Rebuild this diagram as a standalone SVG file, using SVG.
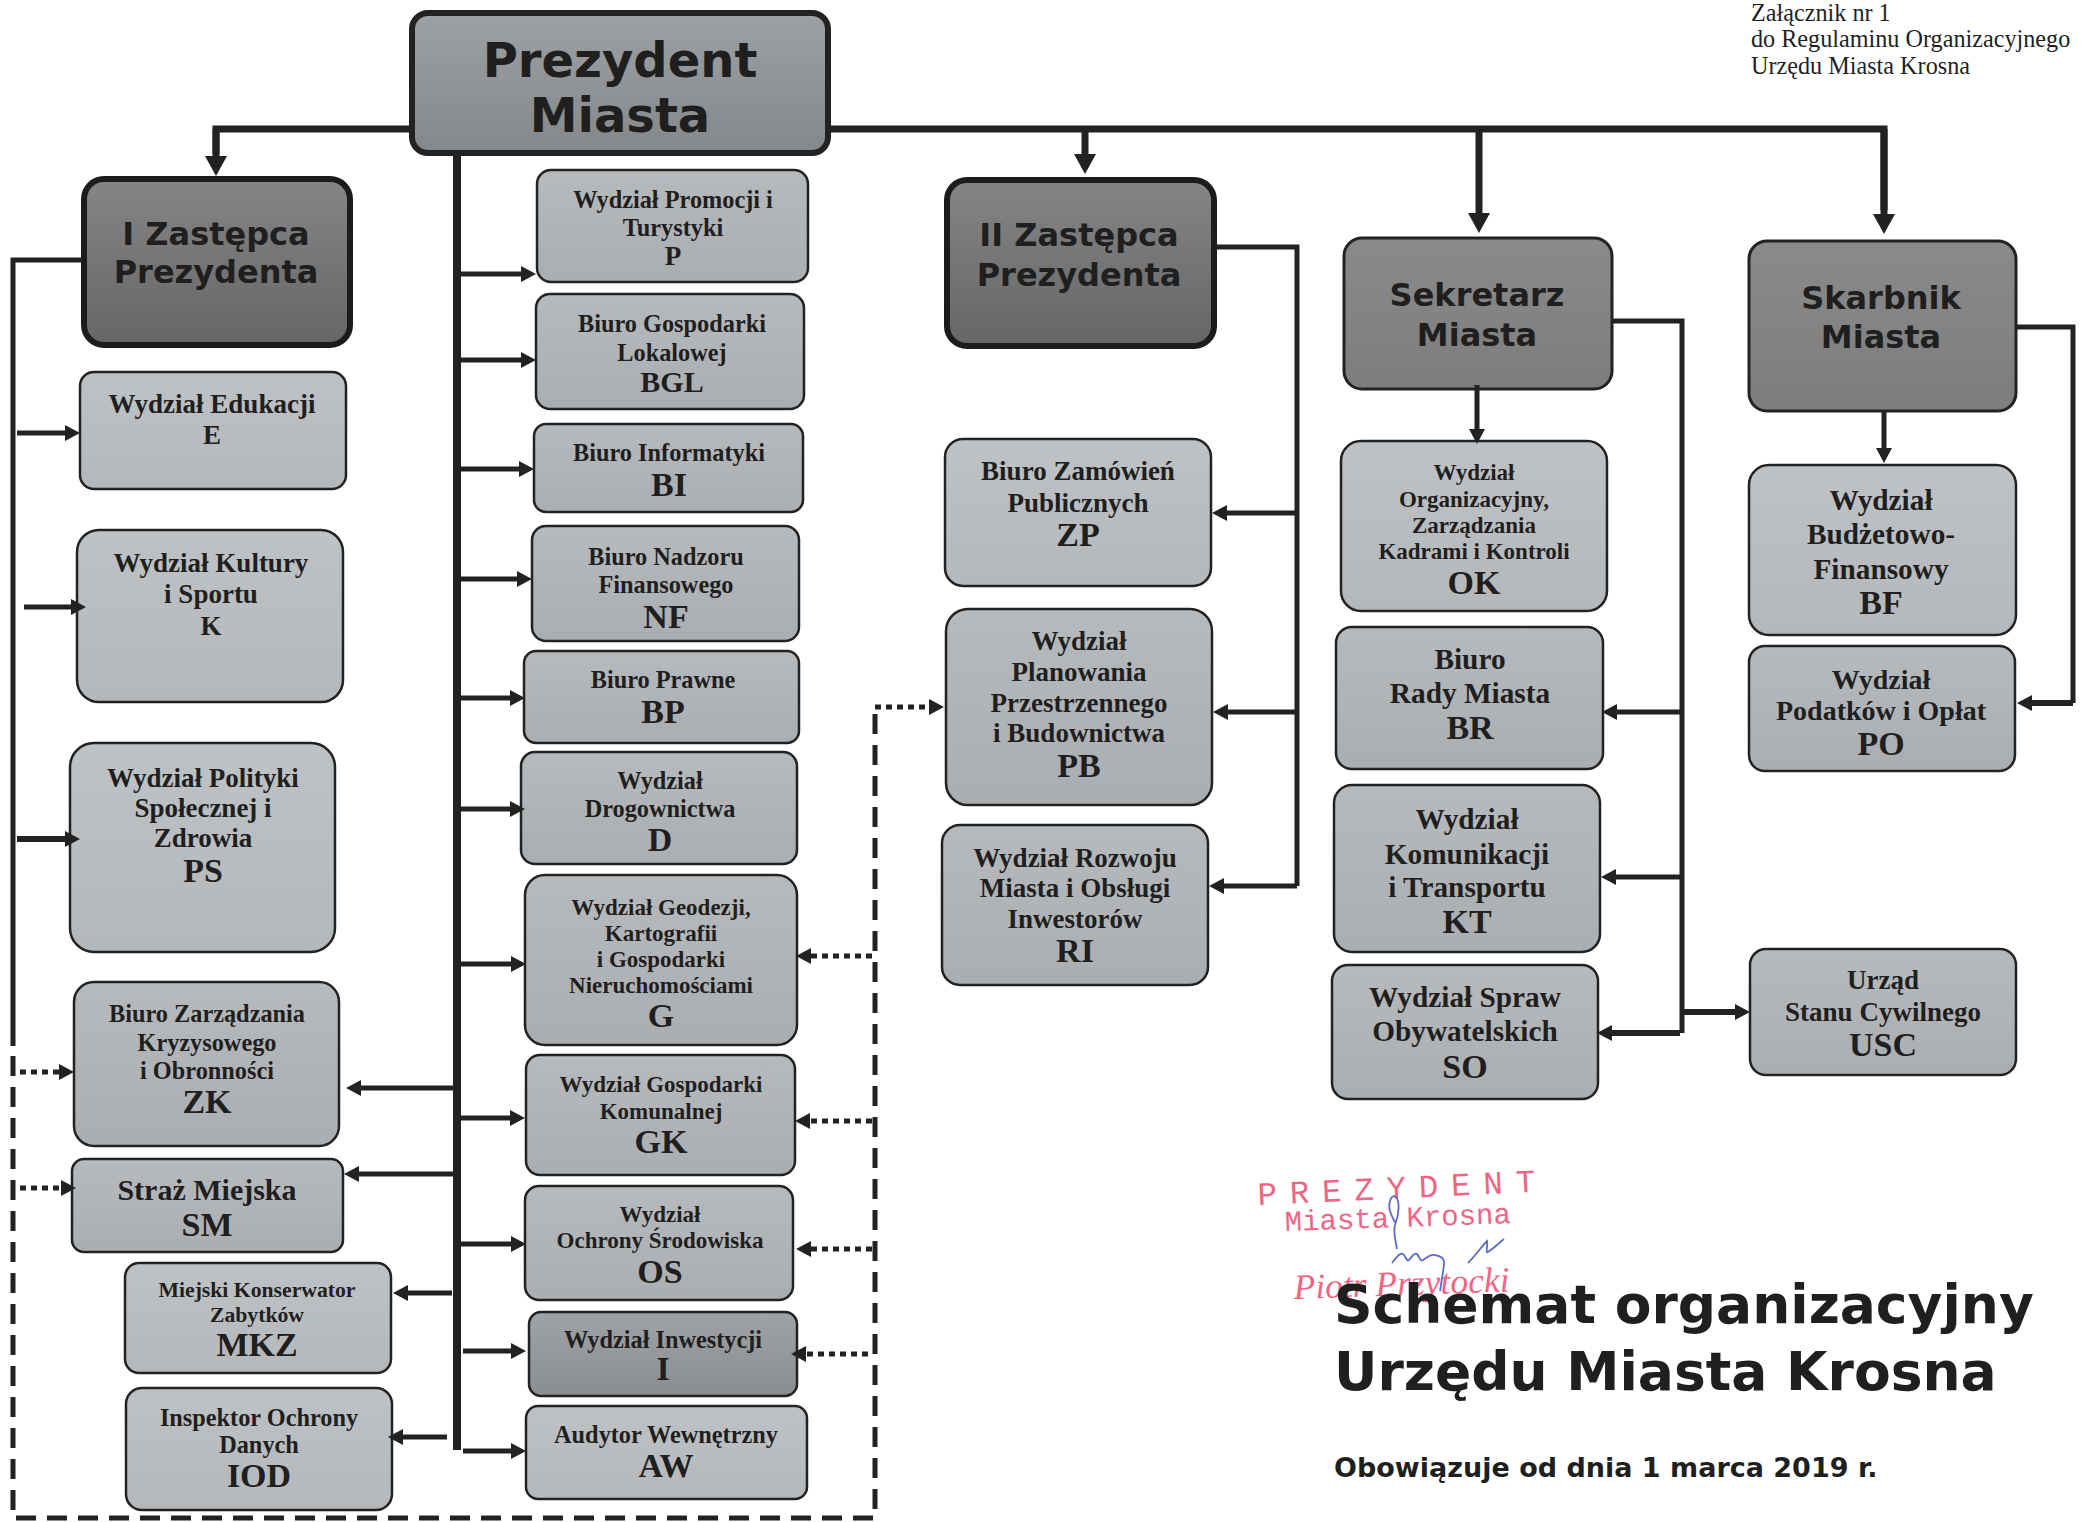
<svg xmlns="http://www.w3.org/2000/svg" width="2084" height="1522" viewBox="0 0 2084 1522">
<style>
text{font-family:"Liberation Serif",serif;font-weight:700;fill:#1f1f1f;text-anchor:middle}
.t{font-size:27px}.s{font-size:24.3px}.r{font-size:23px}.q{font-size:29.3px}.c{font-size:34px}.b{font-size:30px}
.h{font-family:"DejaVu Sans",sans-serif}
.n{fill:url(#g1);stroke:#222;stroke-width:2.5}
.l{fill:url(#g2);stroke:#222;stroke-width:2.5}
.d{fill:url(#g3);stroke:#1c1c1c;stroke-width:6}
.m{fill:url(#g4);stroke:#222;stroke-width:3}
.p{fill:url(#g6);stroke:#222;stroke-width:6}
.w{fill:none;stroke:#222;stroke-width:5}
.th{stroke-width:7}
.dot{stroke-dasharray:6 5;stroke-width:5}
.dash{stroke-dasharray:20 11;stroke-width:5}
.a{marker-end:url(#ah)}.A{marker-end:url(#AH)}
.st{fill:#ee5577;font-weight:400;text-anchor:start}
.sm{font-family:"Liberation Mono",monospace}
.nt{font-weight:400;font-size:24.2px;text-anchor:start}
.big{text-anchor:start;font-size:53.5px}
</style>
<defs>
<linearGradient id="g1" x1="0" y1="0" x2="0" y2="1"><stop offset="0" stop-color="#b7babc"/><stop offset="1" stop-color="#abaeb0"/></linearGradient>
<linearGradient id="g2" x1="0" y1="0" x2="0" y2="1"><stop offset="0" stop-color="#bfc2c4"/><stop offset="1" stop-color="#b5b8ba"/></linearGradient>
<linearGradient id="g3" x1="0" y1="0" x2="0" y2="1"><stop offset="0" stop-color="#858585"/><stop offset="1" stop-color="#666666"/></linearGradient>
<linearGradient id="g4" x1="0" y1="0" x2="0" y2="1"><stop offset="0" stop-color="#8a8a8a"/><stop offset="1" stop-color="#7d7d7d"/></linearGradient>
<linearGradient id="g5" x1="0" y1="0" x2="0" y2="1"><stop offset="0" stop-color="#a0a3a5"/><stop offset="1" stop-color="#8b8e90"/></linearGradient>
<linearGradient id="g6" x1="0" y1="0" x2="0" y2="1"><stop offset="0" stop-color="#9da1a3"/><stop offset="1" stop-color="#85888a"/></linearGradient>
<marker id="ah" markerUnits="userSpaceOnUse" markerWidth="20" markerHeight="20" refX="3" refY="10" orient="auto"><polygon points="0,2 15,10 0,18" fill="#222"/></marker>
<marker id="AH" markerUnits="userSpaceOnUse" markerWidth="26" markerHeight="26" refX="3" refY="13" orient="auto"><polygon points="0,2 20,13 0,24" fill="#222"/></marker>
</defs>

<g id="stamp" opacity="0.9">
<text class="st sm" style="font-size:32.5px;letter-spacing:12.8px" x="1258" y="1205" transform="rotate(-2.7 1258 1205)">PREZYDENT</text>
<text class="st sm" style="font-size:29px" x="1285" y="1231" transform="rotate(-2 1285 1231)">Miasta Krosna</text>
<text class="st" style="font-style:italic;font-size:35.5px" x="1294" y="1299" transform="rotate(-2 1294 1299)">Piotr Przytocki</text>
<path d="M1397 1249C1395 1238 1393 1232 1395 1225C1399 1214 1400 1202 1396 1197C1391 1193 1388 1204 1390 1211C1392 1217 1394 1221 1396 1223M1392 1263C1396 1258 1400 1252 1403 1254C1406 1256 1406 1262 1409 1260C1412 1257 1414 1252 1417 1254C1420 1257 1420 1262 1423 1260C1427 1257 1431 1254 1435 1255C1441 1256 1445 1258 1444 1264C1443 1274 1441 1284 1440 1291M1468 1263C1476 1255 1482 1246 1487 1241C1488 1246 1485 1254 1488 1252C1494 1248 1499 1243 1504 1239" fill="none" stroke="#4a5cc0" stroke-width="1.8"/>
</g>

<g id="prezydent"><rect class="p" x="412" y="13" width="416" height="140" rx="16"/><text class="h" font-size="48" x="620" y="77">Prezydent</text><text class="h" font-size="48" x="620" y="132">Miasta</text></g>
<g id="zastepca1"><rect class="d" x="84" y="179" width="266" height="166" rx="20"/><text class="h" font-size="32" x="216" y="245">I Zastępca</text><text class="h" font-size="32" x="216" y="283">Prezydenta</text></g>
<g id="zastepca2"><rect class="d" x="947" y="180" width="267" height="166" rx="20"/><text class="h" font-size="32" x="1079" y="246">II Zastępca</text><text class="h" font-size="32" x="1079" y="286">Prezydenta</text></g>
<g id="sekretarz"><rect class="m" x="1344" y="238" width="268" height="151" rx="18"/><text class="h" font-size="32" x="1477" y="306">Sekretarz</text><text class="h" font-size="32" x="1477" y="346">Miasta</text></g>
<g id="skarbnik"><rect class="m" x="1749" y="241" width="267" height="170" rx="18"/><text class="h" font-size="32" x="1881" y="309">Skarbnik</text><text class="h" font-size="32" x="1881" y="348">Miasta</text></g>

<g id="P"><rect class="n" x="537" y="170" width="271" height="112" rx="14"/><text class="s" x="673" y="208">Wydział Promocji i</text><text class="s" x="673" y="236">Turystyki</text><text class="t" x="673" y="265">P</text></g>
<g id="BGL"><rect class="n" x="536" y="294" width="268" height="115" rx="14"/><text class="s" x="672" y="332">Biuro Gospodarki</text><text class="s" x="672" y="361">Lokalowej</text><text class="b" x="672" y="392">BGL</text></g>
<g id="BI"><rect class="n" x="534" y="424" width="269" height="88" rx="12"/><text class="s" x="669" y="461">Biuro Informatyki</text><text class="c" x="669" y="496">BI</text></g>
<g id="NF"><rect class="n" x="532" y="526" width="267" height="115" rx="14"/><text class="s" x="666" y="565">Biuro Nadzoru</text><text class="s" x="666" y="593">Finansowego</text><text class="c" x="666" y="628">NF</text></g>
<g id="BP"><rect class="n" x="524" y="651" width="275" height="92" rx="12"/><text class="s" x="663" y="688">Biuro Prawne</text><text class="c" x="663" y="723">BP</text></g>
<g id="D"><rect class="n" x="521" y="752" width="276" height="112" rx="14"/><text class="s" x="660" y="789">Wydział</text><text class="s" x="660" y="817">Drogownictwa</text><text class="c" x="660" y="851">D</text></g>
<g id="G"><rect class="n" x="525" y="875" width="272" height="170" rx="20"/><text class="r" x="661" y="915">Wydział Geodezji,</text><text class="r" x="661" y="941">Kartografii</text><text class="r" x="661" y="967">i Gospodarki</text><text class="r" x="661" y="993">Nieruchomościami</text><text class="c" x="661" y="1027">G</text></g>
<g id="GK"><rect class="n" x="526" y="1055" width="269" height="120" rx="14"/><text class="r" x="661" y="1092">Wydział Gospodarki</text><text class="r" x="661" y="1119">Komunalnej</text><text class="c" x="661" y="1153">GK</text></g>
<g id="OS"><rect class="n" x="525" y="1186" width="268" height="114" rx="14"/><text class="r" x="660" y="1222">Wydział</text><text class="r" x="660" y="1248">Ochrony Środowiska</text><text class="c" x="660" y="1283">OS</text></g>
<g id="I"><rect x="529" y="1312" width="268" height="84" rx="12" style="fill:url(#g5);stroke:#222;stroke-width:2.5"/><text class="s" x="663" y="1348">Wydział Inwestycji</text><text class="c" x="663" y="1380">I</text></g>
<g id="AW"><rect class="l" x="526" y="1406" width="281" height="93" rx="12"/><text class="s" x="666" y="1443">Audytor Wewnętrzny</text><text class="c" x="666" y="1477">AW</text></g>
<g id="E"><rect class="l" x="80" y="372" width="266" height="117" rx="14"/><text class="t" x="212" y="413">Wydział Edukacji</text><text class="t" x="212" y="444">E</text></g>
<g id="K"><rect class="l" x="77" y="530" width="266" height="172" rx="22"/><text class="t" x="211" y="572">Wydział Kultury</text><text class="t" x="211" y="603">i Sportu</text><text class="t" x="211" y="635">K</text></g>
<g id="PS"><rect class="l" x="70" y="743" width="265" height="209" rx="24"/><text class="t" x="203" y="787">Wydział Polityki</text><text class="t" x="203" y="817">Społecznej i</text><text class="t" x="203" y="847">Zdrowia</text><text class="c" x="203" y="882">PS</text></g>
<g id="ZK"><rect class="n" x="74" y="982" width="265" height="164" rx="20"/><text class="s" x="207" y="1022">Biuro Zarządzania</text><text class="s" x="207" y="1051">Kryzysowego</text><text class="s" x="207" y="1079">i Obronności</text><text class="c" x="207" y="1113">ZK</text></g>
<g id="SM"><rect class="n" x="72" y="1159" width="271" height="93" rx="12"/><text style="font-size:30px" x="207" y="1200">Straż Miejska</text><text class="c" x="207" y="1236">SM</text></g>
<g id="MKZ"><rect class="l" x="125" y="1263" width="266" height="110" rx="14"/><text style="font-size:21.7px" x="257" y="1297">Miejski Konserwator</text><text style="font-size:21.7px" x="257" y="1322">Zabytków</text><text class="c" x="257" y="1356">MKZ</text></g>
<g id="IOD"><rect class="l" x="126" y="1388" width="266" height="122" rx="16"/><text class="s" x="259" y="1426">Inspektor Ochrony</text><text class="s" x="259" y="1453">Danych</text><text class="c" x="259" y="1487">IOD</text></g>
<g id="ZP"><rect class="l" x="945" y="439" width="266" height="147" rx="18"/><text class="t" x="1078" y="480">Biuro Zamówień</text><text class="t" x="1078" y="512">Publicznych</text><text class="c" x="1078" y="546">ZP</text></g>
<g id="PB"><rect class="n" x="946" y="609" width="266" height="196" rx="22"/><text class="t" x="1079" y="650">Wydział</text><text class="t" x="1079" y="681">Planowania</text><text class="t" x="1079" y="712">Przestrzennego</text><text class="t" x="1079" y="742">i Budownictwa</text><text class="c" x="1079" y="777">PB</text></g>
<g id="RI"><rect class="n" x="942" y="825" width="266" height="160" rx="18"/><text class="t" x="1075" y="867">Wydział Rozwoju</text><text class="t" x="1075" y="897">Miasta i Obsługi</text><text class="t" x="1075" y="928">Inwestorów</text><text class="c" x="1075" y="962">RI</text></g>
<g id="OK"><rect class="l" x="1341" y="441" width="266" height="170" rx="20"/><text class="r" x="1474" y="480">Wydział</text><text class="r" x="1474" y="507">Organizacyjny,</text><text class="r" x="1474" y="533">Zarządzania</text><text class="r" x="1474" y="559">Kadrami i Kontroli</text><text class="c" x="1474" y="594">OK</text></g>
<g id="BR"><rect class="n" x="1336" y="627" width="267" height="142" rx="16"/><text class="q" x="1470" y="669">Biuro</text><text class="q" x="1470" y="703">Rady Miasta</text><text class="c" x="1470" y="739">BR</text></g>
<g id="KT"><rect class="n" x="1334" y="785" width="266" height="167" rx="18"/><text class="q" x="1467" y="829">Wydział</text><text class="q" x="1467" y="864">Komunikacji</text><text class="q" x="1467" y="897">i Transportu</text><text class="c" x="1467" y="933">KT</text></g>
<g id="SO"><rect class="n" x="1332" y="965" width="266" height="134" rx="16"/><text class="q" x="1465" y="1007">Wydział Spraw</text><text class="q" x="1465" y="1041">Obywatelskich</text><text class="c" x="1465" y="1078">SO</text></g>
<g id="BF"><rect class="l" x="1749" y="465" width="267" height="170" rx="20"/><text class="q" x="1881" y="510">Wydział</text><text class="q" x="1881" y="544">Budżetowo-</text><text class="q" x="1881" y="579">Finansowy</text><text class="c" x="1881" y="614">BF</text></g>
<g id="PO"><rect class="n" x="1749" y="646" width="266" height="125" rx="16"/><text style="font-size:28px" x="1881" y="689">Wydział</text><text style="font-size:28px" x="1881" y="720">Podatków i Opłat</text><text class="c" x="1881" y="755">PO</text></g>
<g id="USC"><rect class="n" x="1750" y="949" width="266" height="126" rx="16"/><text class="t" x="1883" y="989">Urząd</text><text class="t" x="1883" y="1021">Stanu Cywilnego</text><text class="c" x="1883" y="1056">USC</text></g>

<g id="connectors">
<path class="w th" d="M409 129H216V154"/>
<path class="w th A" d="M216 129V159"/>
<path class="w th" d="M828 129H1884V210"/>
<path class="w th A" d="M1085 129V157"/>
<path class="w th A" d="M1479 129V216"/>
<path class="w th A" d="M1884 129V217"/>
<path class="w" style="stroke-width:8" d="M457 153V1450"/>
<path class="w a" d="M457 274H524"/>
<path class="w a" d="M457 360H524"/>
<path class="w a" d="M457 469H522"/>
<path class="w a" d="M457 579H520"/>
<path class="w a" d="M457 698H513"/>
<path class="w a" d="M457 809H513"/>
<path class="w a" d="M457 964H514"/>
<path class="w a" d="M457 1118H513"/>
<path class="w a" d="M457 1244H514"/>
<path class="w a" d="M463 1351H514"/>
<path class="w a" d="M463 1451H514"/>
<path class="w a" d="M457 1088H358"/>
<path class="w a" d="M457 1174H356"/>
<path class="w a" d="M452 1293H405"/>
<path class="w a" d="M447 1437H400"/>
<path class="w" d="M82 260H13V1046"/>
<path class="w dash" d="M13 1056V1518H875V708"/>
<path class="w a" d="M17 433H68"/>
<path class="w a" d="M24 607H74"/>
<path class="w a" style="stroke-width:6" d="M17 839H68"/>
<path class="w dot a" d="M20 1072H62"/>
<path class="w dot a" d="M20 1188H64"/>
<path class="w dot a" d="M875 707H932"/>
<path class="w dot a" d="M872 956H808"/>
<path class="w dot a" d="M872 1121H807"/>
<path class="w dot a" d="M872 1249H808"/>
<path class="w dot a" d="M868 1354H803"/>
<path class="w" d="M1215 247H1297V886"/>
<path class="w a" d="M1297 513H1224"/>
<path class="w a" d="M1297 712H1225"/>
<path class="w a" d="M1297 886H1221"/>
<path class="w" d="M1612 321H1682V1033"/>
<path class="w a" d="M1680 712H1614"/>
<path class="w a" d="M1680 877H1613"/>
<path class="w a" style="stroke-width:6" d="M1680 1033H1609"/>
<path class="w a" style="stroke-width:6" d="M1682 1012H1738"/>
<path class="w a" d="M1477 385V432"/>
<path class="w" d="M2016 327H2073V703"/>
<path class="w a" style="stroke-width:6" d="M2073 703H2029"/>
<path class="w a" d="M1884 411V451"/>
</g>

<g id="title">
<text class="nt" x="1751" y="21">Załącznik nr 1</text>
<text class="nt" x="1751" y="47">do Regulaminu Organizacyjnego</text>
<text class="nt" x="1751" y="74">Urzędu Miasta Krosna</text>
<text class="h big" x="1334" y="1323">Schemat organizacyjny</text>
<text class="h big" x="1334" y="1390">Urzędu Miasta Krosna</text>
<text class="h" style="text-anchor:start;font-size:27px" x="1334" y="1477">Obowiązuje od dnia 1 marca 2019 r.</text>
</g>
</svg>
